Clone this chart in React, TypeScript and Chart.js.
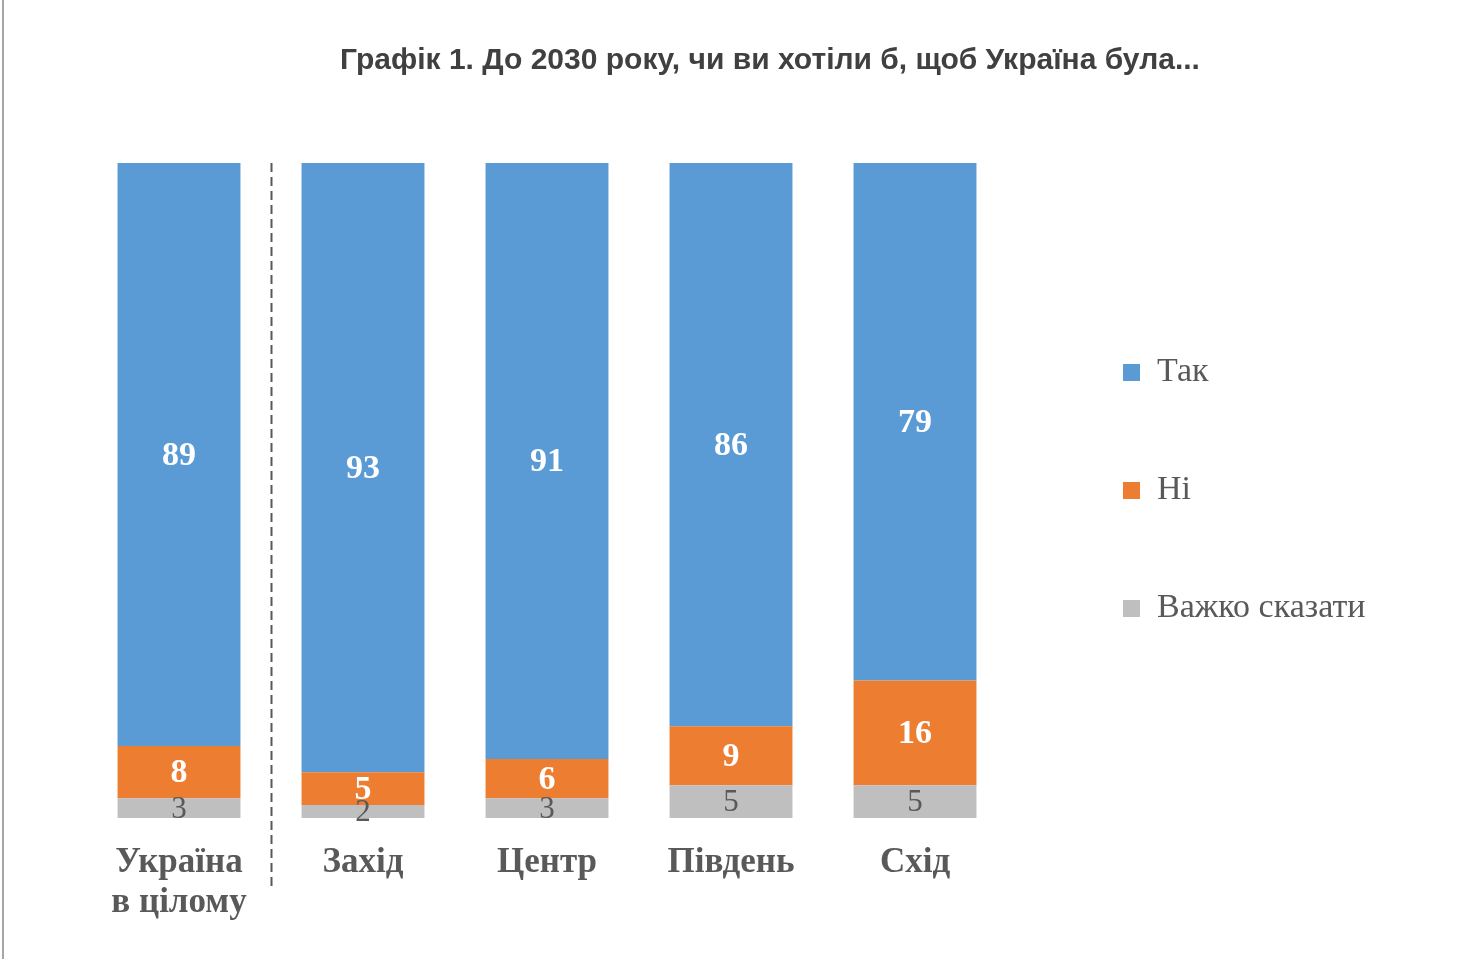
import { useEffect, useRef } from "react";
import { Chart, registerables, Plugin } from "chart.js";

Chart.register(...registerables);

const categories: (string | string[])[] = [["Україна", "в цілому"], "Захід", "Центр", "Південь", "Схід"];
const hardToSay = [3, 2, 3, 5, 5];
const no = [8, 5, 6, 9, 16];
const yes = [89, 93, 91, 86, 79];
const seriesNames = ["Важко сказати", "Ні", "Так"];
const titleText = "Графік 1. До 2030 року, чи ви хотіли б, щоб Україна була...";

const serif = "'Liberation Serif', 'Times New Roman', serif";
const sans = "'Liberation Sans', Arial, sans-serif";
const textGrey = "#595959";

// values written in the middle of every segment
const barLabels: Plugin<"bar"> = {
  id: "barLabels",
  afterDatasetsDraw(chart) {
    const { ctx } = chart;
    chart.data.datasets.forEach((ds, i) => {
      const meta = chart.getDatasetMeta(i);
      if (meta.hidden) return;
      const grey = i === 0;
      ctx.save();
      ctx.font = grey ? `31px ${serif}` : `bold 34px ${serif}`;
      ctx.fillStyle = grey ? textGrey : "#ffffff";
      ctx.textAlign = "center";
      ctx.textBaseline = "middle";
      meta.data.forEach((bar, j) => {
        const { x, y, base } = bar.getProps(["x", "y", "base"], true) as any;
        ctx.fillText(String(ds.data[j]), x, (y + base) / 2 + 1.5);
      });
      ctx.restore();
    });
  },
};

// dashed line between "Україна в цілому" and the regions
const divider: Plugin<"bar"> = {
  id: "divider",
  afterDraw(chart) {
    const { ctx, chartArea } = chart;
    const xs = chart.scales.x;
    const px = Math.round((xs.getPixelForValue(0) + xs.getPixelForValue(1)) / 2) + 0.5;
    ctx.save();
    ctx.strokeStyle = textGrey;
    ctx.lineWidth = 2;
    ctx.setLineDash([9, 5]);
    ctx.beginPath();
    ctx.moveTo(px, chartArea.top);
    ctx.lineTo(px, chartArea.bottom + 68);
    ctx.stroke();
    ctx.restore();
  },
};

const plotRight = 1007;
const gapBeforeLegend = 32;

const App = () => {
  const canvasRef = useRef<HTMLCanvasElement>(null);

  useEffect(() => {
    if (!canvasRef.current) return;
    const chart = new Chart(canvasRef.current, {
      type: "bar",
      data: {
        labels: categories,
        datasets: [
          { label: seriesNames[0], data: hardToSay, backgroundColor: "#BFBFBF" },
          { label: seriesNames[1], data: no, backgroundColor: "#ED7D31" },
          { label: seriesNames[2], data: yes, backgroundColor: "#5B9BD5" },
        ],
      },
      options: {
        animation: false,
        responsive: true,
        maintainAspectRatio: false,
        datasets: { bar: { barPercentage: 0.668, categoryPercentage: 1 } },
        layout: { padding: { left: 87, right: 27, top: 0, bottom: 11 } },
        plugins: {
          title: {
            display: true,
            text: titleText,
            color: "#404040",
            font: { family: sans, size: 30, weight: "bold", lineHeight: 1.2 },
            padding: { top: 43, bottom: 84 },
          },
          legend: {
            position: "right",
            fullSize: false,
            align: "center",
            maxWidth: 420,
            labels: {
              boxWidth: 17,
              boxHeight: 17,
              padding: 84,
              color: textGrey,
              font: { family: serif, size: 34 },
              sort: (a, b) => (b.datasetIndex ?? 0) - (a.datasetIndex ?? 0),
            },
          },
          tooltip: { enabled: false },
        },
        scales: {
          x: {
            stacked: true,
            grid: { display: false, drawTicks: false },
            border: { display: false },
            ticks: {
              color: textGrey,
              padding: 25,
              maxRotation: 0,
              autoSkip: false,
              font: { family: serif, size: 35, weight: "bold", lineHeight: 40 / 35 },
            },
          },
          y: {
            stacked: true,
            min: 0,
            max: 100,
            position: "right",
            grid: { display: false, drawTicks: false },
            border: { display: false },
            ticks: { display: false },
            afterFit: (s) => {
              s.width = gapBeforeLegend;
            },
          },
          pad: {
            type: "linear",
            position: "right",
            weight: 2000,
            grid: { display: false, drawTicks: false },
            border: { display: false },
            ticks: { display: false },
            afterFit: (s) => {
              const legendW = s.chart.legend ? s.chart.legend.width : 0;
              s.width = Math.max(0, 1480 - 27 - plotRight - gapBeforeLegend - legendW);
            },
          },
        },
      },
      plugins: [barLabels, divider],
    });

    return () => {
      chart.destroy();
    };
  }, []);

  return (
    <div style={{ position: "fixed", left: 0, top: 0, width: 1480, height: 959, background: "#ffffff" }}>
      <div style={{ position: "absolute", left: 2, top: 0, width: 2, height: 959, background: "#a6a6a6" }} />
      <canvas ref={canvasRef} />
    </div>
  );
};

export default App;
